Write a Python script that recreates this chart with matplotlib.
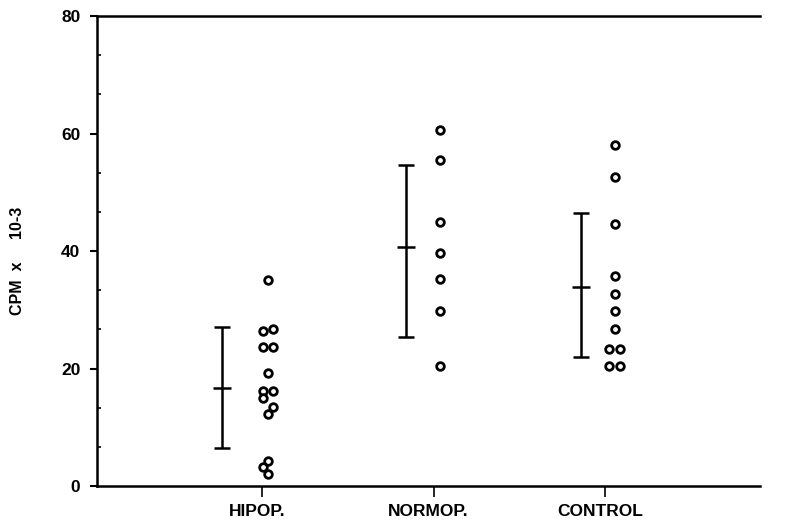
import numpy as np
import matplotlib.pyplot as plt
import matplotlib.transforms as mtransforms
from matplotlib.ticker import MultipleLocator

# groups and tick labels
groups = ["HIPOP.", "NORMOP.", "CONTROL"]

# individual values (CPM x 10-3)
hipop = [35.1, 26.4, 26.8, 23.6, 23.6, 19.3, 16.2, 16.2, 15.0, 13.5, 12.3, 4.3, 3.2, 2.0]
normop = [60.6, 55.5, 45.0, 39.7, 35.2, 29.8, 20.4]
control = [58.0, 52.6, 44.6, 35.7, 32.7, 29.8, 26.7, 23.3, 23.3, 20.4, 20.4]

# mean and range bars
means = [16.7, 40.7, 33.9]
lower = [6.4, 25.4, 22.0]
upper = [27.1, 54.6, 46.5]

# which side a circle is nudged to when two overlap (-1 left, 0 centre, 1 right)
hipop_side = [0, -1, 1, -1, 1, 0, -1, 1, -1, 1, 0, 0, -1, 0]
normop_side = [0] * len(normop)
control_side = [0, 0, 0, 0, 0, 0, 0, -1, 1, -1, 1]

# layout (x data units)
point_shift = [0.035, 0.035, 0.055]
side_step = 0.03
bar_shift = [-0.234, -0.16, -0.14]

plt.rcParams['font.family'] = ['Liberation Sans', 'DejaVu Sans']

fig = plt.figure(figsize=(7.88, 5.22), dpi=100)
ax = fig.add_axes([0.123, 0.069, 0.841, 0.900])

for i, (vals, sides) in enumerate([(hipop, hipop_side), (normop, normop_side),
                                   (control, control_side)]):
    xs = np.full(len(vals), i + 1 + point_shift[i]) + np.array(sides) * side_step
    ax.plot(xs, vals, 'o', mfc='white', mec='black', mew=2.0, ms=5.5,
            linestyle='none', zorder=3)

xb = np.arange(1, 4) + np.array(bar_shift)
yerr = [np.array(means) - np.array(lower), np.array(upper) - np.array(means)]
ax.errorbar(xb, means, yerr=yerr, fmt='_', color='black', ms=13, mew=1.8,
            elinewidth=1.8, capsize=6, capthick=1.8)

ax.set_xlim(0.038, 3.90)
ax.set_ylim(0, 80)
ax.set_xticks([1, 2, 3])
ax.set_xticklabels(groups, fontsize=12.5, fontweight='bold')
ax.set_yticks([0, 20, 40, 60, 80])
ax.yaxis.set_minor_locator(MultipleLocator(20 / 3))
ax.tick_params(axis='y', which='major', direction='out', length=5, width=1.5,
               labelsize=12.5, pad=7)
ax.tick_params(axis='y', which='minor', direction='in', length=3, width=1.2)
ax.tick_params(axis='x', direction='out', length=8, width=1.2, pad=5)
for lab in ax.get_yticklabels():
    lab.set_fontweight('bold')

ax.set_ylabel("CPM  x     10-3", fontsize=11.5, fontweight='bold')
ax.yaxis.set_label_coords(-0.108, 0.48)

for s in ['left', 'bottom', 'top']:
    ax.spines[s].set_linewidth(1.8)
ax.spines['right'].set_visible(False)

# labels sit a little left of their ticks in the original
fig.canvas.draw()
shift = mtransforms.ScaledTranslation(-5 / 100, 0, fig.dpi_scale_trans)
for tick in ax.xaxis.get_major_ticks():
    tick.label1.set_transform(tick.label1.get_transform() + shift)

fig.savefig("out.png", dpi=100)
